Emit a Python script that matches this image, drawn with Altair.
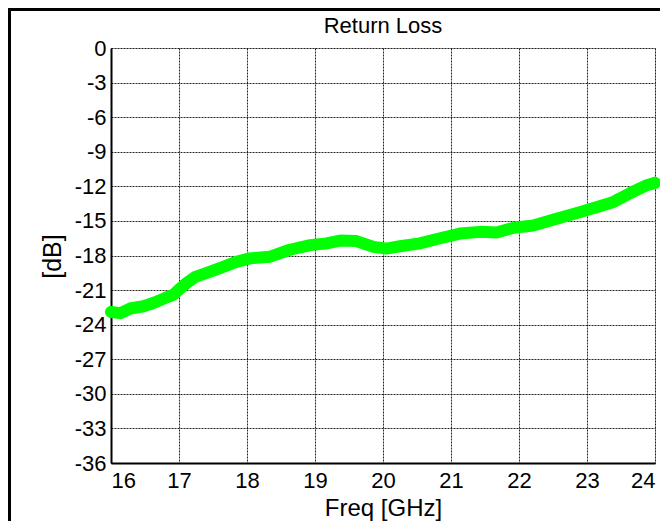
import altair as alt
import pandas as pd

freq = [16.0, 16.14, 16.28, 16.48, 16.63, 16.79, 16.92, 16.99, 17.11, 17.24, 17.46, 17.64, 17.84,
        18.04, 18.34, 18.63, 18.93, 19.17, 19.37, 19.61, 19.86, 20.05, 20.25, 20.54, 20.84,
        21.13, 21.43, 21.67, 21.92, 22.21, 22.5, 22.8, 23.09, 23.39, 23.63, 23.88, 24.0]
db = [-22.9, -23.0, -22.6, -22.4, -22.1, -21.7, -21.4, -21.0, -20.4, -19.85, -19.4, -19.0, -18.55,
      -18.25, -18.1, -17.5, -17.1, -16.95, -16.7, -16.75, -17.25, -17.4, -17.2, -16.95, -16.5,
      -16.1, -15.95, -16.0, -15.6, -15.4, -14.9, -14.4, -13.9, -13.35, -12.6, -11.9, -11.7]

x_ticks = [16, 17, 18, 19, 20, 21, 22, 23, 24]
y_ticks = [0, -3, -6, -9, -12, -15, -18, -21, -24, -27, -30, -33, -36]
title_text = ["Return Loss"]

df = pd.DataFrame({"freq": freq, "db": db})
one = pd.DataFrame({"a": [0]})
title_df = pd.DataFrame({"t": title_text})

FONT = "Liberation Sans"
LABEL_EXPR = "'' + datum.value"

line = alt.Chart(df).mark_line(
    color="#00FF00", strokeWidth=12, strokeCap="round", strokeJoin="round"
).encode(
    x=alt.X("freq:Q",
            scale=alt.Scale(domain=[16, 24], nice=False, zero=False),
            axis=alt.Axis(values=x_ticks, title="Freq [GHz]", labelExpr=LABEL_EXPR,
                          labelFontSize=22, labelPadding=7, titleFontSize=24,
                          titleBaseline="alphabetic", titleY=52,
                          grid=True, gridColor="#000000", gridDash=[2, 1], gridWidth=1,
                          gridOpacity=0.85,
                          domainColor="#000000", domainWidth=2, tickSize=0,
                          labelColor="#000000", titleColor="#000000",
                          labelFont=FONT, titleFont=FONT, titleFontWeight="normal")),
    y=alt.Y("db:Q",
            scale=alt.Scale(domain=[-36, 0], nice=False, zero=False),
            axis=alt.Axis(values=y_ticks, title="[dB]", labelExpr=LABEL_EXPR,
                          labelFontSize=22, labelPadding=5, titleFontSize=25,
                          titleBaseline="alphabetic", titleX=-51, titleY=208,
                          titleAngle=270, titleAlign="center",
                          grid=True, gridColor="#000000", gridDash=[2, 1], gridWidth=1,
                          gridOpacity=0.85,
                          domainColor="#000000", domainWidth=2, tickSize=0,
                          labelColor="#000000", titleColor="#000000",
                          labelFont=FONT, titleFont=FONT, titleFontWeight="normal")),
)

title_mark = alt.Chart(title_df).mark_text(
    font=FONT, fontSize=22, color="#000000", align="center", baseline="alphabetic"
).encode(
    text="t:N", x=alt.value(272), y=alt.value(-15)
)

border_left = alt.Chart(one).mark_rule(color="#000000", strokeWidth=3).encode(
    x=alt.value(-101.5), y=alt.value(-40), y2=alt.value(473)
)
border_top = alt.Chart(one).mark_rule(color="#000000", strokeWidth=3).encode(
    x=alt.value(-103), x2=alt.value(549), y=alt.value(-38.5)
)

chart = alt.layer(line, title_mark, border_left, border_top).properties(
    width=544, height=415,
    autosize=alt.AutoSizeParams(type="none"),
    padding={"left": 103, "top": 40, "right": 5, "bottom": 58},
).configure_view(stroke=None).configure(background="#ffffff")

chart.save("out.html", embed_options={"renderer": "svg", "actions": False})
